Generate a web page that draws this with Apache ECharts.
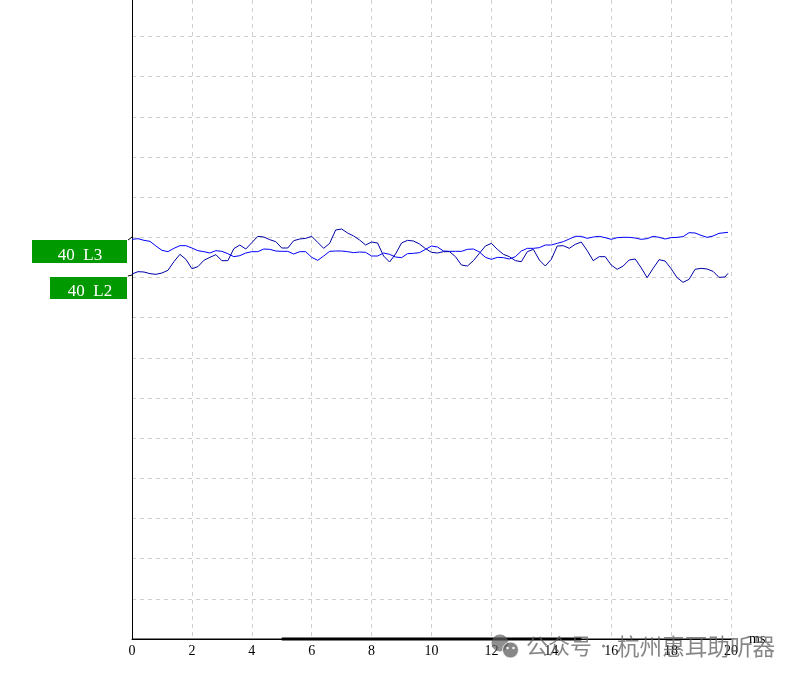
<!DOCTYPE html>
<html>
<head>
<meta charset="utf-8">
<title>ABR L2 L3</title>
<script src="https://cdn.jsdelivr.net/npm/echarts@6/dist/echarts.min.js"></script>
<style>
  html, body { margin: 0; padding: 0; background: #fff; }
  #chart { width: 801px; height: 678px; }
</style>
</head>
<body>
<div id="chart"></div>
<script>
// amplitude in trace units, one grid division = 120.5, one sample every 0.2 ms
const traceL3 = [
  1199, 1201, 1196, 1193, 1179, 1166, 1162, 1172, 1180, 1180, 1173, 1165, 1162, 1158, 1165, 1163, 1156, 1147, 1150, 1158,
  1162, 1162, 1170, 1169, 1164, 1163, 1163, 1155, 1162, 1162, 1145, 1136, 1149, 1163, 1164, 1164, 1162, 1159, 1161, 1160,
  1149, 1149, 1158, 1154, 1146, 1144, 1156, 1157, 1159, 1169, 1179, 1176, 1164, 1163, 1163, 1163, 1169, 1170, 1161, 1145,
  1139, 1145, 1144, 1140, 1147, 1164, 1172, 1172, 1174, 1182, 1182, 1187, 1192, 1200, 1208, 1208, 1202, 1206, 1208, 1204,
  1199, 1204, 1205, 1205, 1203, 1199, 1201, 1208, 1205, 1200, 1204, 1205, 1207, 1219, 1218, 1211, 1205, 1209, 1217, 1219,
  1220
];
const traceL2 = [
  1095, 1102, 1101, 1096, 1094, 1098, 1106, 1132, 1154, 1139, 1111, 1117, 1136, 1145, 1153, 1135, 1135, 1171, 1182, 1170,
  1189, 1208, 1206, 1198, 1192, 1173, 1173, 1195, 1200, 1202, 1208, 1190, 1172, 1187, 1227, 1230, 1218, 1209, 1197, 1182,
  1191, 1188, 1149, 1131, 1155, 1188, 1196, 1194, 1185, 1171, 1160, 1158, 1162, 1162, 1147, 1122, 1119, 1135, 1157, 1179,
  1187, 1169, 1154, 1147, 1135, 1132, 1162, 1169, 1137, 1119, 1139, 1179, 1180, 1172, 1184, 1191, 1165, 1135, 1147, 1147,
  1122, 1109, 1119, 1137, 1140, 1114, 1084, 1112, 1138, 1134, 1111, 1084, 1070, 1079, 1109, 1112, 1110, 1103, 1085, 1086,
  1097
];
const stimulusBar = [5, 15];
const axisEnd = 20.53;
const labelL3 = '40  L3';
const labelL2 = '40  L2';
const watermarkA = '公众号';
const watermarkB = '杭州惠耳助听器';

const withTime = (trace) => trace.map((v, i) => [Math.min(i * 0.2, 19.9), v]);

const chart = echarts.init(document.getElementById('chart'), null, { renderer: 'canvas' });

function channelTag(left, top, width, height, text, textX, textY) {
  return [
    { type: 'rect', z: 10, shape: { x: left, y: top, width, height }, style: { fill: '#009900' } },
    {
      type: 'text', z: 11, x: textX, y: textY,
      style: { text, fill: '#fff', font: '17px "Liberation Serif"', align: 'center', verticalAlign: 'middle' },
    },
  ];
}

chart.setOption({
  animation: false,
  backgroundColor: '#fff',
  grid: { left: 132, right: 70, top: 0, bottom: 39 },
  xAxis: {
    type: 'value',
    min: 0,
    max: 20,
    interval: 2,
    name: 'ms',
    nameLocation: 'end',
    nameGap: 18,
    nameTextStyle: { color: '#000', fontFamily: 'Liberation Serif', fontSize: 14, padding: [2, 0, 0, 0] },
    axisLine: { show: true, lineStyle: { color: '#000', width: 1 } },
    axisTick: { show: false },
    axisLabel: { color: '#000', fontFamily: 'Liberation Serif', fontSize: 14, margin: 5 },
    splitLine: { show: true, showMinLine: false, lineStyle: { color: '#cfcfcf', type: [4, 4], width: 1 } },
  },
  yAxis: {
    type: 'value',
    min: 0,
    max: 1917,
    interval: 120.5,
    axisLine: { show: true, onZero: false, lineStyle: { color: '#000', width: 1 } },
    axisTick: { show: false },
    axisLabel: { show: false },
    splitLine: { show: true, showMinLine: false, showMaxLine: false, lineStyle: { color: '#cfcfcf', type: [4, 4], width: 1 } },
  },
  series: [
    {
      type: 'line', name: 'axis end', data: [[0, 0], [axisEnd, 0]], clip: false, silent: true,
      symbol: 'none', lineStyle: { color: '#000', width: 1 },
    },
    {
      type: 'line', name: 'stimulus', data: stimulusBar.map((t) => [t, 0]), clip: false, silent: true,
      symbol: 'none', lineStyle: { color: '#000', width: 3, cap: 'butt' },
    },
    {
      type: 'line', name: 'L3', data: withTime(traceL3), clip: false, smooth: false,
      symbol: 'none', lineStyle: { color: '#0000ff', width: 1 },
    },
    {
      type: 'line', name: 'L2', data: withTime(traceL2), clip: false, smooth: false,
      symbol: 'none', lineStyle: { color: '#0000a8', width: 1 },
    },
  ],
  graphic: [
    ...channelTag(32, 240, 95, 23, labelL3, 80, 256),
    ...channelTag(50, 277, 77, 22, labelL2, 90, 292),
    { type: 'polyline', z: 9, shape: { points: [[128, 240], [132, 237]] }, style: { stroke: '#000', lineWidth: 1, fill: null } },
    { type: 'polyline', z: 9, shape: { points: [[128, 276], [132, 275]] }, style: { stroke: '#000', lineWidth: 1, fill: null } },
    // watermark
    { type: 'circle', z: 20, shape: { cx: 500, cy: 643, r: 8.5 }, style: { fill: 'rgba(95,95,95,0.7)' } },
    { type: 'circle', z: 21, shape: { cx: 510.5, cy: 650, r: 8 }, style: { fill: 'rgba(95,95,95,0.75)', stroke: 'rgba(255,255,255,0.8)', lineWidth: 1 } },
    { type: 'circle', z: 22, shape: { cx: 507.5, cy: 648, r: 1.2 }, style: { fill: '#fff' } },
    { type: 'circle', z: 22, shape: { cx: 513.5, cy: 648, r: 1.2 }, style: { fill: '#fff' } },
    {
      type: 'text', z: 20, x: 526, y: 646,
      style: { text: watermarkA, fill: 'rgba(95,95,95,0.75)', font: '22px "Noto Sans CJK SC"', verticalAlign: 'middle' },
    },
    { type: 'circle', z: 20, shape: { cx: 603.5, cy: 646, r: 1.5 }, style: { fill: 'rgba(95,95,95,0.75)' } },
    {
      type: 'text', z: 20, x: 617, y: 646,
      style: { text: watermarkB, fill: 'rgba(95,95,95,0.75)', font: '22.6px "Noto Sans CJK SC"', verticalAlign: 'middle' },
    },
  ],
});
</script>
</body>
</html>
